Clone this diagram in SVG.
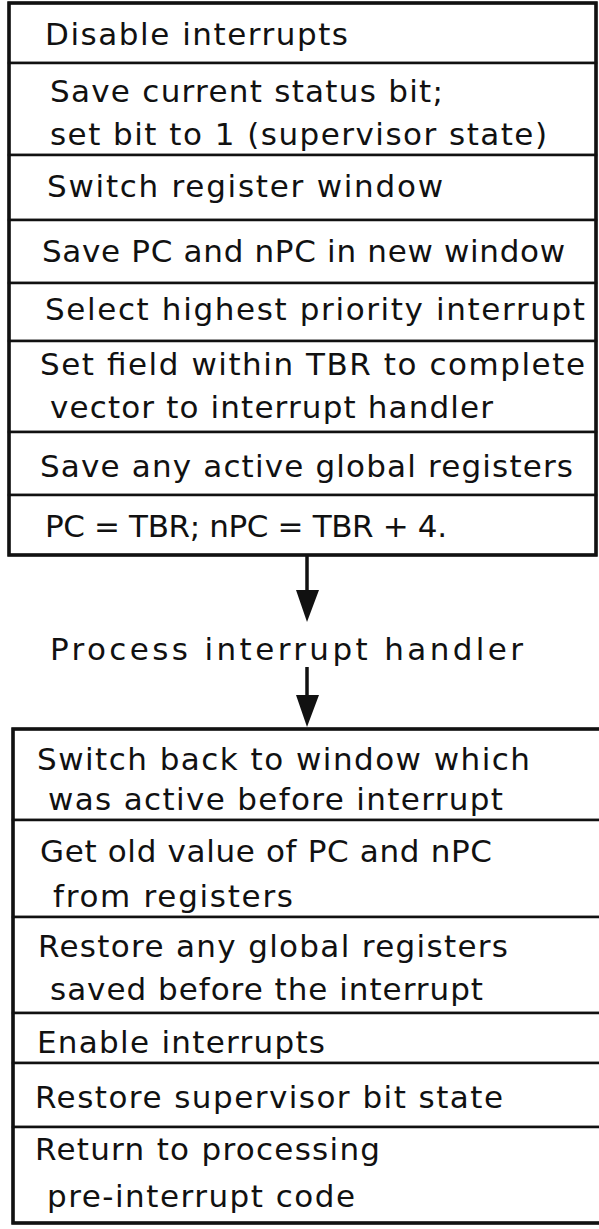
<svg xmlns="http://www.w3.org/2000/svg" width="599" height="1229" viewBox="0 0 599 1229">
<style>
.row{fill:#fff;stroke:#111;stroke-width:2.5}
.frame{fill:none;stroke:#111;stroke-width:3.5}
.t{font-family:"DejaVu Sans","Liberation Sans",sans-serif;font-size:31px;fill:#111;font-weight:normal}
.shaft{stroke:#111;stroke-width:3.5;fill:none}
.head{fill:#111;stroke:none}
</style>
<rect width="599" height="1229" fill="#fff"/>
<g id="top-box">
<g id="n1"><rect class="row" x="9" y="3" width="587" height="60"/><text class="t" x="45" y="45" textLength="303" lengthAdjust="spacing">Disable interrupts</text></g>
<g id="n2"><rect class="row" x="9" y="63" width="587" height="92"/><text class="t" x="50" y="102" textLength="393" lengthAdjust="spacing">Save current status bit;</text><text class="t" x="50" y="145" textLength="497" lengthAdjust="spacing">set bit to 1 (supervisor state)</text></g>
<g id="n3"><rect class="row" x="9" y="155" width="587" height="65"/><text class="t" x="47" y="197" textLength="396" lengthAdjust="spacing">Switch register window</text></g>
<g id="n4"><rect class="row" x="9" y="220" width="587" height="63"/><text class="t" x="42" y="262" textLength="523" lengthAdjust="spacing">Save PC and nPC in new window</text></g>
<g id="n5"><rect class="row" x="9" y="283" width="587" height="58"/><text class="t" x="45" y="320" textLength="540" lengthAdjust="spacing">Select highest priority interrupt</text></g>
<g id="n6"><rect class="row" x="9" y="341" width="587" height="91"/><text class="t" x="40" y="375" textLength="545" lengthAdjust="spacing">Set field within TBR to complete</text><text class="t" x="50" y="418" textLength="443" lengthAdjust="spacing">vector to interrupt handler</text></g>
<g id="n7"><rect class="row" x="9" y="432" width="587" height="63"/><text class="t" x="40" y="477" textLength="533" lengthAdjust="spacing">Save any active global registers</text></g>
<g id="n8"><rect class="row" x="9" y="495" width="587" height="60"/><text class="t" x="45" y="537" textLength="402" lengthAdjust="spacing">PC = TBR; nPC = TBR + 4.</text></g>
<rect class="frame" x="9" y="3" width="587" height="552"/>
</g>
<g id="label-process"><text class="t" x="50" y="660" textLength="473" lengthAdjust="spacing">Process interrupt handler</text></g>
<g id="bottom-box">
<g id="m1"><rect class="row" x="13" y="729" width="588" height="91"/><text class="t" x="37" y="770" textLength="493" lengthAdjust="spacing">Switch back to window which</text><text class="t" x="48" y="810" textLength="455" lengthAdjust="spacing">was active before interrupt</text></g>
<g id="m2"><rect class="row" x="13" y="820" width="588" height="97"/><text class="t" x="40" y="862" textLength="452" lengthAdjust="spacing">Get old value of PC and nPC</text><text class="t" x="53" y="907" textLength="240" lengthAdjust="spacing">from registers</text></g>
<g id="m3"><rect class="row" x="13" y="917" width="588" height="96"/><text class="t" x="38" y="957" textLength="470" lengthAdjust="spacing">Restore any global registers</text><text class="t" x="50" y="1000" textLength="433" lengthAdjust="spacing">saved before the interrupt</text></g>
<g id="m4"><rect class="row" x="13" y="1013" width="588" height="50"/><text class="t" x="37" y="1053" textLength="288" lengthAdjust="spacing">Enable interrupts</text></g>
<g id="m5"><rect class="row" x="13" y="1063" width="588" height="64"/><text class="t" x="35" y="1108" textLength="468" lengthAdjust="spacing">Restore supervisor bit state</text></g>
<g id="m6"><rect class="row" x="13" y="1127" width="588" height="96"/><text class="t" x="35" y="1160" textLength="345" lengthAdjust="spacing">Return to processing</text><text class="t" x="47" y="1207" textLength="308" lengthAdjust="spacing">pre-interrupt code</text></g>
<rect class="frame" x="13" y="729" width="588" height="494"/>
</g>
<g id="connectors">
<line class="shaft" x1="307" y1="556" x2="307" y2="592"/>
<polygon class="head" points="296,590 319,590 307,622"/>
<line class="shaft" x1="307" y1="667" x2="307" y2="697"/>
<polygon class="head" points="296,695 319,695 307,727"/>
</g>
</svg>
